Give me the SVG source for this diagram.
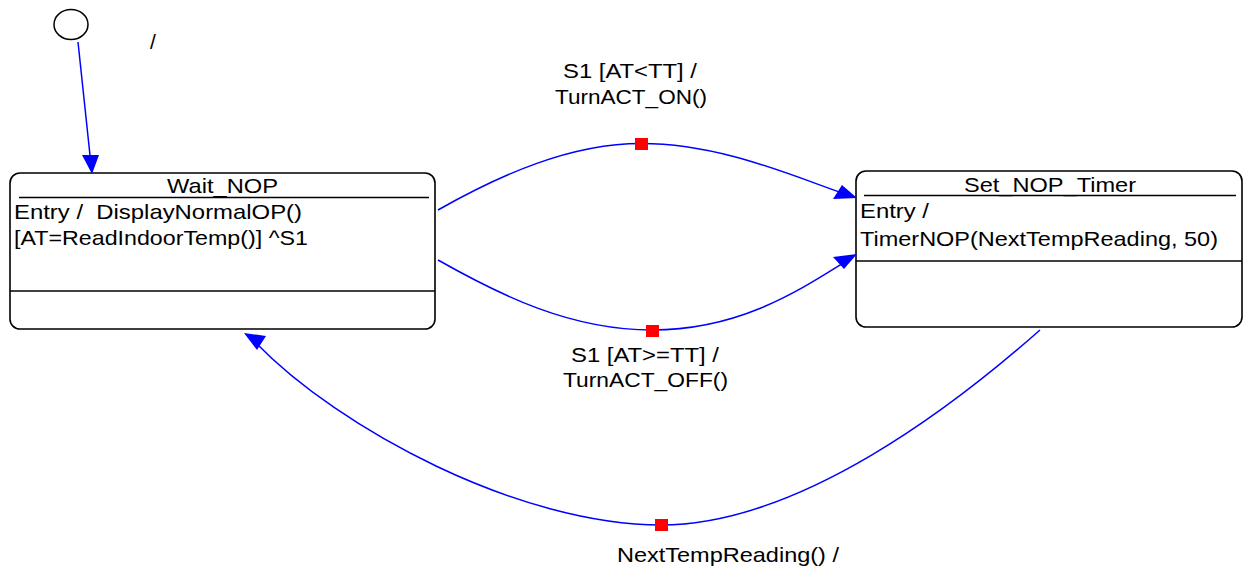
<svg xmlns="http://www.w3.org/2000/svg" width="1250" height="569" viewBox="0 0 1250 569">
<style>
text{font-family:"Liberation Sans",Arial,sans-serif;font-size:21px;fill:#000}
.box{fill:#fff;stroke:#000;stroke-width:1.6}
.sep{stroke:#000;stroke-width:1.6}
.edge{fill:none;stroke:#0000ff;stroke-width:1.5}
.head{fill:#0000ff;stroke:none}
.mark{fill:#ff0000}
</style>
<rect width="1250" height="569" fill="#fff"/>
<g id="initial">
<ellipse cx="71" cy="24.5" rx="17" ry="15" fill="#fff" stroke="#000" stroke-width="1.5"/>
</g>
<g id="Wait_NOP">
<rect class="box" x="10" y="173" width="425" height="156" rx="10"/>
<line class="sep" x1="19" y1="197.5" x2="429" y2="197.5"/>
<line class="sep" x1="10" y1="291" x2="435" y2="291"/>
<text x="167" y="193" textLength="111" lengthAdjust="spacingAndGlyphs">Wait_NOP</text>
<text x="14" y="219" textLength="288" lengthAdjust="spacingAndGlyphs">Entry /&#160; DisplayNormalOP()</text>
<text x="14" y="245" textLength="294" lengthAdjust="spacingAndGlyphs">[AT=ReadIndoorTemp()] ^S1</text>
</g>
<g id="Set_NOP_Timer">
<rect class="box" x="856" y="171" width="386" height="156" rx="10"/>
<line class="sep" x1="864" y1="195.5" x2="1236" y2="195.5"/>
<line class="sep" x1="856" y1="261" x2="1242" y2="261"/>
<text x="964" y="191.5" textLength="172" lengthAdjust="spacingAndGlyphs">Set_NOP_Timer</text>
<text x="860" y="218" textLength="69" lengthAdjust="spacingAndGlyphs">Entry /</text>
<text x="860" y="246" textLength="358" lengthAdjust="spacingAndGlyphs">TimerNOP(NextTempReading, 50)</text>
</g>
<g id="connectors">
<line class="edge" x1="78" y1="42" x2="90.5" y2="160"/>
<polygon class="head" points="82,155 99,155 92,174"/>
<text x="150" y="49">/</text>

<path class="edge" d="M438,210 C500,175 570,143.5 641,143.5 C720,143.5 790,175 845,194"/>
<polygon class="head" points="857,198 833,199 842,185"/>
<rect class="mark" x="635" y="138" width="13" height="12"/>
<text x="563" y="78" textLength="134" lengthAdjust="spacingAndGlyphs">S1 [AT&lt;TT] /</text>
<text x="555" y="104" textLength="152" lengthAdjust="spacingAndGlyphs">TurnACT_ON()</text>

<path class="edge" d="M438,260 C500,295 570,330 652,330 C740,330 800,290 845,262"/>
<polygon class="head" points="857,254 833,257 844,269"/>
<rect class="mark" x="646" y="325" width="13" height="12"/>
<text x="571" y="362" textLength="148" lengthAdjust="spacingAndGlyphs">S1 [AT&gt;=TT] /</text>
<text x="563" y="387" textLength="165" lengthAdjust="spacingAndGlyphs">TurnACT_OFF()</text>

<path class="edge" d="M1040,330 C955,405 800,525 661,525 C520,525 340,430 255,342"/>
<polygon class="head" points="244,333 266,336 257,350"/>
<rect class="mark" x="655" y="519" width="13" height="12"/>
<text x="617" y="562" textLength="222" lengthAdjust="spacingAndGlyphs">NextTempReading() /</text>
</g>
</svg>
